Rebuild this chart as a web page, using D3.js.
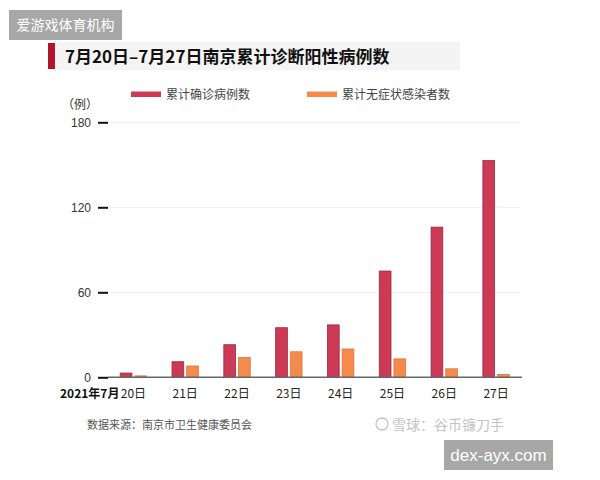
<!DOCTYPE html>
<html>
<head>
<meta charset="utf-8">
<script src="https://cdn.jsdelivr.net/npm/d3@7"></script>
<style>
  body { margin: 0; background: #fff; }
  text { font-family: "Noto Sans CJK SC", "Noto Sans", sans-serif; }
</style>
</head>
<body>
<svg width="600" height="480"></svg>
<script>
var days = ["20日", "21日", "22日", "23日", "24日", "25日", "26日", "27日"];
var seriesNames = ["累计确诊病例数", "累计无症状感染者数"];
var confirmed = [3, 11, 23, 35, 37, 75, 106, 153];
var asymptomatic = [1, 8, 14, 18, 20, 13, 6, 2];
var yTicks = [0, 60, 120, 180];

var svg = d3.select("svg");
var colors = ["#cc3a55", "#f48a4b"],
    strokes = ["#9c2a3e", "#d9773a"];

var x = d3.scaleBand().domain(days).range([107.5, 522]).paddingInner(0.49).paddingOuter(0.245),
    xs = d3.scaleBand().domain(seriesNames).range([0, x.bandwidth()]).paddingInner(0.2),
    y = d3.scaleLinear().domain([0, 180]).range([377.3, 122.3]);

var data = days.map(function(d, i) {
  return {day: d, values: [confirmed[i], asymptomatic[i]]};
});

// top-left watermark
svg.append("rect").attr("x", 9).attr("y", 10).attr("width", 113).attr("height", 30).attr("fill", "#a7a7a7");
svg.append("text").attr("x", 65.5).attr("y", 30).attr("text-anchor", "middle")
    .style("font-size", "14px").style("fill", "#fff").text("爱游戏体育机构");

// title
svg.append("rect").attr("x", 55).attr("y", 42).attr("width", 405).attr("height", 28).attr("fill", "#f4f4f4");
svg.append("rect").attr("x", 48).attr("y", 43).attr("width", 7).attr("height", 26).attr("fill", "#b3142a");
svg.append("text").attr("x", 65).attr("y", 63)
    .style("font-size", "17px").style("font-weight", "bold").style("fill", "#111")
    .text("7月20日–7月27日南京累计诊断阳性病例数");

// legend
var legend = svg.append("g").selectAll("g")
    .data(seriesNames)
  .enter().append("g")
    .attr("transform", function(d, i) { return "translate(" + (131 + i * 176) + ",0)"; });
legend.append("rect").attr("x", 0).attr("y", 91.5).attr("width", 30).attr("height", 5.5)
    .attr("fill", function(d, i) { return colors[i]; });
legend.append("text").attr("x", 35).attr("y", 99)
    .style("font-size", "12px").style("fill", "#444")
    .text(function(d) { return d; });

svg.append("text").attr("x", 62).attr("y", 109)
    .style("font-size", "12px").style("fill", "#333").text("（例）");

// grid + y axis
svg.append("g").selectAll("line")
    .data(yTicks.slice(1))
  .enter().append("line")
    .attr("x1", 108).attr("x2", 520)
    .attr("y1", function(d) { return y(d); }).attr("y2", function(d) { return y(d); })
    .attr("stroke", "#efefef").attr("stroke-width", 1);

var yAxis = svg.append("g")
    .attr("transform", "translate(108,0)")
    .call(d3.axisLeft(y).tickValues(yTicks).tickSize(10).tickPadding(7));
yAxis.select(".domain").remove();
yAxis.selectAll(".tick line").attr("stroke", "#111").attr("stroke-width", 2);
yAxis.selectAll(".tick text")
    .style("font-size", "12px").style("fill", "#333")
    .style("font-family", "'Liberation Sans', sans-serif");

// bars
var groups = svg.append("g").selectAll("g")
    .data(data)
  .enter().append("g")
    .attr("transform", function(d) { return "translate(" + x(d.day) + ",0)"; });
groups.selectAll("rect")
    .data(function(d) { return d.values.map(function(v, i) { return {key: seriesNames[i], value: v, i: i}; }); })
  .enter().append("rect")
    .attr("x", function(d) { return xs(d.key); })
    .attr("y", function(d) { return y(d.value); })
    .attr("width", xs.bandwidth())
    .attr("height", function(d) { return y(0) - y(d.value); })
    .attr("fill", function(d) { return colors[d.i]; })
    .attr("stroke", function(d) { return strokes[d.i]; })
    .attr("stroke-width", 0.8);

// baseline
svg.append("line").attr("x1", 108).attr("x2", 522).attr("y1", y(0)).attr("y2", y(0))
    .attr("stroke", "#666").attr("stroke-width", 1.5);

// x labels
svg.append("g").selectAll("text")
    .data(days)
  .enter().append("text")
    .attr("x", function(d) { return x(d) + x.bandwidth() / 2; })
    .attr("y", 398)
    .attr("text-anchor", "middle")
    .style("font-size", "12px").style("fill", "#222")
    .text(function(d) { return d; });
svg.append("text").attr("x", x(days[0]) + x.bandwidth() / 2 - 14).attr("y", 398)
    .attr("text-anchor", "end")
    .style("font-size", "12px").style("font-weight", "bold").style("fill", "#111")
    .text("2021年7月");

// source
svg.append("text").attr("x", 87).attr("y", 429)
    .style("font-size", "11px").style("fill", "#555")
    .text("数据来源：南京市卫生健康委员会");

// xueqiu mark
svg.append("circle").attr("cx", 382).attr("cy", 424).attr("r", 6)
    .attr("fill", "none").attr("stroke", "#c4c4c4").attr("stroke-width", 1.3);
svg.append("text").attr("x", 392).attr("y", 430)
    .style("font-size", "14px").style("fill", "#c4c4c4")
    .text("雪球：谷币镰刀手");

// bottom-right watermark
svg.append("rect").attr("x", 444).attr("y", 440).attr("width", 109).attr("height", 30).attr("fill", "#a7a7a7");
svg.append("text").attr("x", 498.5).attr("y", 461).attr("text-anchor", "middle")
    .style("font-size", "17px").style("fill", "#fff")
    .style("font-family", "'Liberation Sans', sans-serif")
    .text("dex-ayx.com");
</script>
</body>
</html>
